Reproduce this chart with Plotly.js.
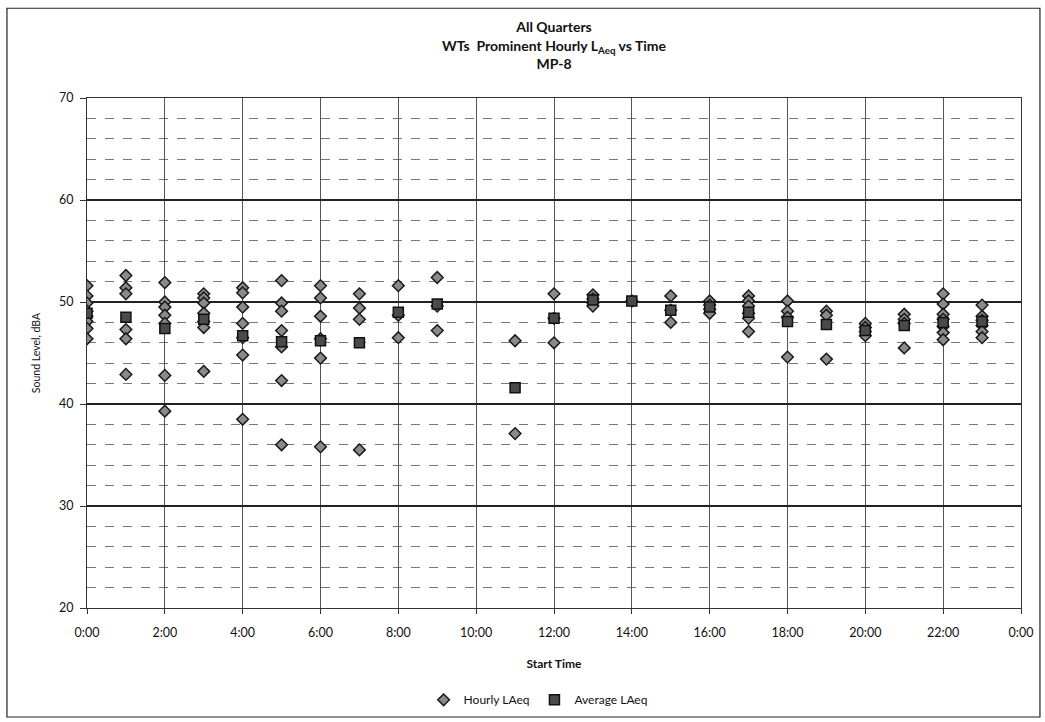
<!DOCTYPE html>
<html>
<head>
<meta charset="utf-8">
<script src="https://cdn.plot.ly/plotly-3.0.1.min.js"></script>
<style>html,body{margin:0;padding:0;background:#fff;}#chart{width:1045px;height:722px;}</style>
</head>
<body>
<div id="chart"></div>
<script>
// Hourly LAeq samples: start hour and level (dBA)
const hourlyHour = [
  0,0,0,0,0,0,0,0,
  1,1,1,1,1,1,
  2,2,2,2,2,2,2,
  3,3,3,3,3,3,3,
  4,4,4,4,4,4,4,
  5,5,5,5,5,5,5,
  6,6,6,6,6,6,
  7,7,7,7,
  8,8,8,
  9,9,9,
  11,11,
  12,12,12,
  13,13,13,13,
  14,
  15,15,15,
  16,16,16,16,
  17,17,17,17,17,17,
  18,18,18,18,
  19,19,19,
  20,20,20,20,
  21,21,21,21,
  22,22,22,22,22,22,22,
  23,23,23,23,23,23
];
const hourlyLevel = [
  51.6,50.6,49.9,49.1,48.6,48.1,47.4,46.4,
  52.6,51.4,50.8,47.3,46.4,42.9,
  51.9,50.0,49.5,48.7,47.9,42.8,39.3,
  50.8,50.4,49.9,48.9,48.1,47.5,43.2,
  51.4,50.9,49.5,47.9,46.5,44.8,38.5,
  52.1,49.9,49.1,47.2,45.6,42.3,36.0,
  51.6,50.4,48.6,46.4,44.5,35.8,
  50.8,49.4,48.3,35.5,
  51.6,48.7,46.5,
  52.4,49.6,47.2,
  46.2,37.1,
  50.8,48.4,46.0,
  50.7,50.3,49.9,49.6,
  50.1,
  50.6,49.2,48.0,
  50.1,49.7,49.3,48.9,
  50.6,50.1,49.6,48.9,48.4,47.1,
  50.1,49.1,48.5,44.6,
  49.1,48.7,44.4,
  47.9,47.5,47.1,46.7,
  48.8,48.3,47.9,45.5,
  50.8,49.8,48.8,48.3,47.6,47.0,46.3,
  49.7,48.6,48.2,47.7,47.1,46.5
];
// Average LAeq per start hour
const avgHour  = [0,1,2,3,4,5,6,7,8,9,11,12,13,14,15,16,17,18,19,20,21,22,23];
const avgLevel = [48.9,48.5,47.4,48.3,46.7,46.1,46.2,46.0,49.0,49.8,41.6,48.4,50.2,50.1,49.2,49.5,49.0,48.1,47.8,47.2,47.7,48.0,48.1];
// Tick labels
const xTickVals  = [0,2,4,6,8,10,12,14,16,18,20,22,24];
const xTickText  = ["0:00","2:00","4:00","6:00","8:00","10:00","12:00","14:00","16:00","18:00","20:00","22:00","0:00"];
const yTickVals  = [20,30,40,50,60,70];

const FONT = "Lato, 'Open Sans', sans-serif";

const traces = [
  {
    type: "scatter", mode: "markers", name: "Hourly LAeq",
    x: hourlyHour, y: hourlyLevel,
    marker: {symbol: "diamond", size: 9, color: "#8a8a8a", line: {color: "#1a1a1a", width: 1.5}}
  },
  {
    type: "scatter", mode: "markers", name: "Average LAeq",
    x: avgHour, y: avgLevel,
    marker: {symbol: "square", size: 10, color: "#4a4a4a", line: {color: "#111", width: 1.5}}
  }
];

const layout = {
  width: 1045, height: 722,
  margin: {l: 87, r: 24, t: 98, b: 114, autoexpand: false},
  paper_bgcolor: "#fff", plot_bgcolor: "#fff",
  font: {family: FONT, size: 12, color: "#111"},
  title: {
    text: "<b>All Quarters</b><br><b>WTs  Prominent Hourly L<sub>Aeq</sub> vs Time</b><br><b>MP-8</b>",
    x: 0.5, xref: "paper", xanchor: "center",
    y: 0.955, yanchor: "top",
    font: {family: FONT, size: 14, color: "#111"}
  },
  showlegend: true,
  legend: {
    orientation: "h", x: 0.483, xanchor: "center", y: -0.18, yanchor: "middle",
    bgcolor: "rgba(0,0,0,0)",
    font: {family: FONT, size: 12, color: "#111"}, itemwidth: 30, tracegroupgap: 0
  },
  xaxis: {
    range: [0, 24], tickvals: xTickVals, ticktext: xTickText,
    automargin: false,
    showgrid: true, gridcolor: "#555", gridwidth: 1,
    showline: true, linecolor: "#333", linewidth: 1, mirror: true,
    ticks: "outside", ticklen: 5, tickcolor: "#333",
    ticklabelstandoff: 8,
    zeroline: false,
    tickfont: {family: FONT, size: 12.5, color: "#111"},
    title: {text: "<b>Start Time</b>", standoff: 20, font: {family: FONT, size: 12, color: "#111"}}
  },
  yaxis: {
    range: [20, 70], tickvals: yTickVals,
    automargin: false,
    showgrid: true, gridcolor: "#222", gridwidth: 1.3,
    minor: {dtick: 2, showgrid: true, gridcolor: "#777", gridwidth: 1, griddash: "dash", ticks: ""},
    showline: true, linecolor: "#333", linewidth: 1, mirror: true,
    ticks: "outside", ticklen: 6, tickcolor: "#333",
    ticklabelstandoff: 4,
    zeroline: false,
    tickfont: {family: FONT, size: 12.5, color: "#111"},
    title: {text: "Sound Level, dBA", standoff: 16, font: {family: FONT, size: 10.5, color: "#111"}}
  },
  shapes: [
    {type: "rect", xref: "paper", yref: "paper", x0: -0.0857, x1: 1.0203, y0: -0.2137, y1: 1.176,
     line: {color: "#222", width: 1.2}, fillcolor: "rgba(0,0,0,0)", layer: "below"}
  ]
};

Plotly.newPlot("chart", traces, layout, {displayModeBar: false, staticPlot: true});
</script>
</body>
</html>
